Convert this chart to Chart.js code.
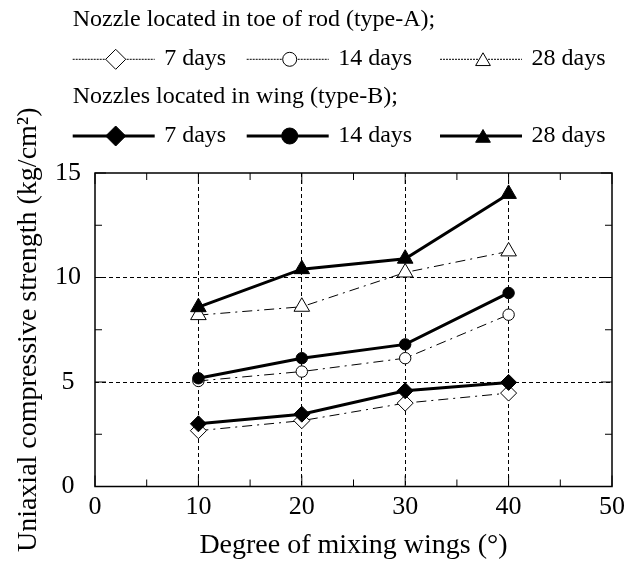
<!DOCTYPE html>
<html>
<head>
<meta charset="utf-8">
<script src="https://cdn.jsdelivr.net/npm/chart.js@4/dist/chart.umd.min.js"></script>
<style>
  html, body { margin: 0; padding: 0; background: #fff; }
  #wrap { width: 625px; height: 563px; }
</style>
</head>
<body>
<div id="wrap"><canvas id="strength_chart"></canvas></div>
<script>
// values (kg/cm2)
const degrees = [10, 20, 30, 40];
const ageLabels = ['7 days', '14 days', '28 days'];
const groupTitles = ['Nozzle located in toe of rod (type-A);', 'Nozzles located in wing (type-B);'];

const typeA7 = [2.67, 3.15, 3.99, 4.47];
const typeA14 = [5.05, 5.5, 6.14, 8.22];
const typeA28 = [8.2, 8.6, 10.24, 11.25];

const typeB7 = [3.0, 3.46, 4.58, 4.98];
const typeB14 = [5.18, 6.14, 6.8, 9.26];
const typeB28 = [8.58, 10.4, 10.9, 14.0];

const xTicks = [0, 10, 20, 30, 40, 50];
const yTicks = [0, 5, 10, 15];
const xMinorStep = 5;
const yMinorStep = 2.5;

const FONT = "'Liberation Serif', 'Times New Roman', serif";
const shapes = ['rectRot', 'circle', 'triangle'];
const radii = [8, 5.7, 9];

function pts(vals) {
  return vals.map((v, i) => ({x: degrees[i], y: v}));
}

// type-B first so it is drawn on top
const datasets = [];
[typeB7, typeB14, typeB28].forEach((vals, i) => {
  datasets.push({
    label: ageLabels[i], group: 1, data: pts(vals),
    borderColor: '#000', borderWidth: 3,
    pointStyle: shapes[i], pointRadius: radii[i], pointHoverRadius: radii[i],
    pointBackgroundColor: '#000', pointBorderColor: '#000', pointBorderWidth: 1
  });
});
[typeA7, typeA14, typeA28].forEach((vals, i) => {
  datasets.push({
    label: ageLabels[i], group: 0, data: pts(vals),
    borderColor: '#000', borderWidth: 1, borderDash: [10, 5, 2, 5],
    pointStyle: shapes[i], pointRadius: radii[i], pointHoverRadius: radii[i],
    pointBackgroundColor: '#fff', pointBorderColor: '#000', pointBorderWidth: 1
  });
});

function line(ctx, x1, y1, x2, y2) {
  ctx.beginPath(); ctx.moveTo(x1, y1); ctx.lineTo(x2, y2); ctx.stroke();
}

// frame + inward ticks on all four sides
const framePlugin = {
  id: 'frame',
  afterDraw(chart) {
    const {ctx, chartArea: a, scales: {x, y}} = chart;
    ctx.save();
    ctx.strokeStyle = '#000';
    ctx.setLineDash([]);
    ctx.lineWidth = 1.5;
    ctx.strokeRect(a.left, a.top, a.right - a.left, a.bottom - a.top);
    ctx.lineWidth = 1;
    for (let v = xTicks[0]; v <= xTicks[xTicks.length - 1]; v += xMinorStep) {
      const px = x.getPixelForValue(v);
      const len = xTicks.includes(v) ? 11 : 7;
      line(ctx, px, a.bottom, px, a.bottom - len);
      line(ctx, px, a.top, px, a.top + len);
    }
    for (let v = yTicks[0]; v <= yTicks[yTicks.length - 1]; v += yMinorStep) {
      const py = y.getPixelForValue(v);
      const len = yTicks.includes(v) ? 11 : 7;
      line(ctx, a.left, py, a.left + len, py);
      line(ctx, a.right, py, a.right - len, py);
    }
    ctx.restore();
  }
};

// two-block legend above the plot
const legendPlugin = {
  id: 'blockLegend',
  afterDraw(chart) {
    const ctx = chart.ctx;
    const startX = [72.7, 246.7, 440];
    const sampleLen = 82;
    ctx.save();
    ctx.fillStyle = '#000';
    ctx.font = '24px ' + FONT;
    ctx.textBaseline = 'alphabetic';
    groupTitles.forEach((title, g) => {
      const headY = 26 + g * 77.3;
      const rowY = 59.3 + g * 76.7;
      ctx.fillStyle = '#000';
      ctx.textAlign = 'left';
      ctx.fillText(title, 72.7, headY);
      chart.data.datasets.filter(d => d.group === g).forEach((d, i) => {
        const x0 = startX[i];
        ctx.strokeStyle = '#000';
        ctx.lineWidth = g === 0 ? 1 : 3;
        ctx.setLineDash(g === 0 ? [2, 1] : []);
        line(ctx, x0, rowY, x0 + sampleLen, rowY);
        ctx.setLineDash([]);
        const r = d.pointStyle === 'circle' ? (g === 0 ? 7 : 8) : (d.pointStyle === 'rectRot' ? 10 : 8.5);
        ctx.fillStyle = d.pointBackgroundColor;
        ctx.strokeStyle = '#000';
        ctx.lineWidth = 1;
        Chart.helpers.drawPoint(ctx, {pointStyle: d.pointStyle, radius: r, rotation: 0, borderWidth: 1},
          x0 + 43, rowY + (d.pointStyle === 'triangle' ? 2 : 0));
        ctx.fillStyle = '#000';
        ctx.fillText(d.label, x0 + 91.5, rowY + 6);
      });
    });
    ctx.restore();
  }
};

const chart = new Chart(document.getElementById('strength_chart'), {
  type: 'line',
  data: {datasets: datasets},
  plugins: [framePlugin, legendPlugin],
  options: {
    responsive: true,
    maintainAspectRatio: false,
    animation: false,
    events: [],
    layout: {padding: {top: 173, right: 13, left: 0, bottom: 0}},
    plugins: {legend: {display: false}, tooltip: {enabled: false}},
    scales: {
      x: {
        type: 'linear',
        min: xTicks[0], max: xTicks[xTicks.length - 1],
        afterFit: s => { s.height = 76.5; s.paddingLeft = 0; s.paddingRight = 0; },
        afterBuildTicks: s => { s.ticks = xTicks.map(v => ({value: v})); },
        ticks: {color: '#000', padding: 5, font: {family: FONT, size: 26}, maxRotation: 0},
        grid: {
          drawTicks: false,
          color: c => (c.tick && (c.tick.value === xTicks[0] || c.tick.value === xTicks[xTicks.length - 1])) ? 'rgba(0,0,0,0)' : '#000',
          lineWidth: 1
        },
        border: {display: false, dash: [4, 3]},
        title: {display: true, text: 'Degree of mixing wings (°)', color: '#000',
          font: {family: FONT, size: 28}, padding: {top: 0, bottom: 1}}
      },
      y: {
        type: 'linear',
        min: yTicks[0], max: yTicks[yTicks.length - 1],
        afterFit: s => { s.width = 95; },
        afterBuildTicks: s => { s.ticks = yTicks.map(v => ({value: v})); },
        ticks: {color: '#000', padding: 14, crossAlign: 'center', font: {family: FONT, size: 26}},
        grid: {
          drawTicks: false,
          color: c => (c.tick && (c.tick.value === yTicks[0] || c.tick.value === yTicks[yTicks.length - 1])) ? 'rgba(0,0,0,0)' : '#000',
          lineWidth: 1
        },
        border: {display: false, dash: [4, 3]},
        title: {display: true, text: 'Uniaxial compressive strength (kg/cm²)', color: '#000',
          font: {family: FONT, size: 28}, padding: {top: 11.7, bottom: 0}}
      }
    }
  }
});
</script>
</body>
</html>
